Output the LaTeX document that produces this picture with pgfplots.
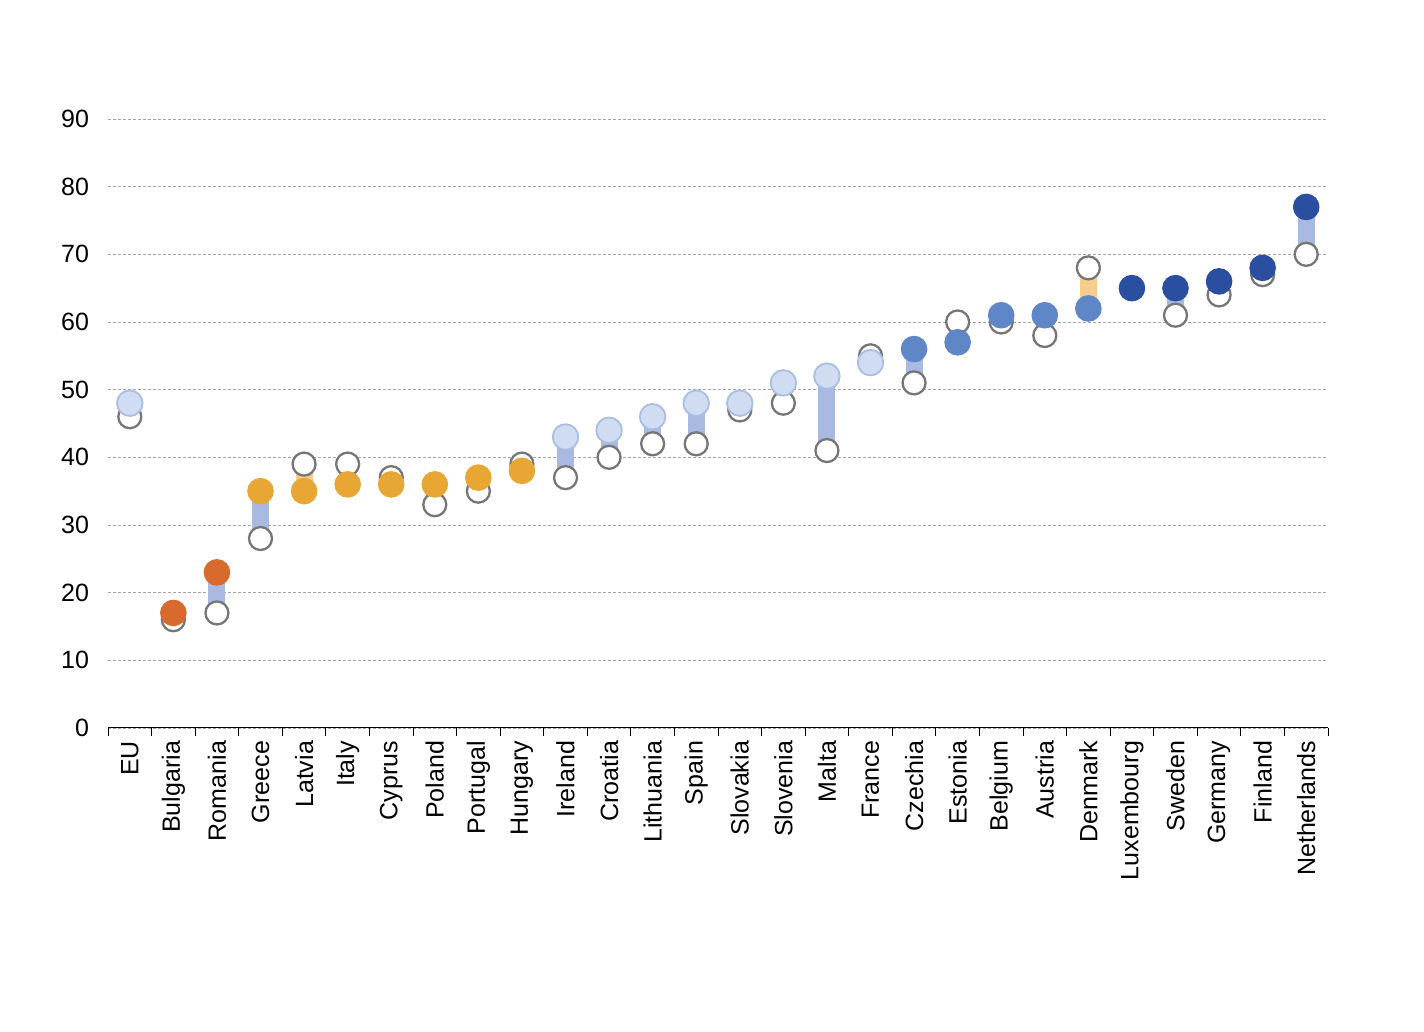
\documentclass[border=0pt]{standalone}
\usepackage{fontspec}
\setmainfont{Liberation Sans}
\usepackage{pgfplots}
\pgfplotsset{compat=1.18}
\usepackage{pgfplotstable}

\definecolor{openedge}{HTML}{767676}
\definecolor{lbfill}{HTML}{CFDCF1}
\definecolor{lbedge}{HTML}{AABDE3}
\definecolor{dofill}{HTML}{D86A2D}
\definecolor{gofill}{HTML}{E8A734}
\definecolor{mbfill}{HTML}{5F86C7}
\definecolor{dbfill}{HTML}{2B4FA0}
\definecolor{barblue}{HTML}{AAB9E1}
\definecolor{barorange}{HTML}{F6CD8E}
\definecolor{gridgray}{HTML}{A6A6A6}

\pgfplotstableread{
x open filled grp
0 46 48 lb
1 16 17 do
2 17 23 do
3 28 35 go
4 39 35 go
5 39 36 go
6 37 36 go
7 33 36 go
8 35 37 go
9 39 38 go
10 37 43 lb
11 40 44 lb
12 42 46 lb
13 42 48 lb
14 47 48 lb
15 48 51 lb
16 41 52 lb
17 55 54 lb
18 51 56 mb
19 60 57 mb
20 60 61 mb
21 58 61 mb
22 68 62 mb
23 65 65 db
24 61 65 db
25 64 66 db
26 67 68 db
27 70 77 db
}\data

\begin{document}
\begin{tikzpicture}
\useasboundingbox (0,0) rectangle (712pt,516pt);
\begin{axis}[
  at={(54pt,152pt)}, anchor=south west,
  scale only axis, width=610pt, height=304.5pt,
  xmin=-0.5, xmax=27.5, ymin=0, ymax=90,
  ytick={0,10,...,90},
  xtick={0,...,27},
  xticklabels={EU,Bulgaria,Romania,Greece,Latvia,Italy,Cyprus,Poland,Portugal,Hungary,Ireland,Croatia,Lithuania,Spain,Slovakia,Slovenia,Malta,France,Czechia,Estonia,Belgium,Austria,Denmark,Luxembourg,Sweden,Germany,Finland,Netherlands},
  minor xtick={-0.5,0.5,...,27.5},
  axis lines*=left,
  y axis line style={draw=none},
  x axis line style={black, line width=0.5pt},
  major tick length=0pt,
  minor tick length=4pt,
  tick align=outside,
  ytick style={draw=none},
  minor x tick style={black, line width=0.5pt},
  ymajorgrids,
  major grid style={draw=gridgray, dash pattern=on 1.5pt off 1pt, line width=0.4pt},
  /pgf/number format/assume math mode=true,
  tick label style={font=\fontsize{12.5}{15}\selectfont},
  yticklabel style={anchor=east, xshift=-6pt},
  xticklabel style={rotate=90, anchor=east, xshift=-3pt},
  clip=false,
]
% connecting bars (increase: blue, decrease: orange)
\addplot[barblue, line width=8.5pt, forget plot] coordinates {(0,46) (0,48)};
\addplot[barblue, line width=8.5pt, forget plot] coordinates {(1,16) (1,17)};
\addplot[barblue, line width=8.5pt, forget plot] coordinates {(2,17) (2,23)};
\addplot[barblue, line width=8.5pt, forget plot] coordinates {(3,28) (3,35)};
\addplot[barorange, line width=8.5pt, forget plot] coordinates {(4,39) (4,35)};
\addplot[barorange, line width=8.5pt, forget plot] coordinates {(5,39) (5,36)};
\addplot[barorange, line width=8.5pt, forget plot] coordinates {(6,37) (6,36)};
\addplot[barblue, line width=8.5pt, forget plot] coordinates {(7,33) (7,36)};
\addplot[barblue, line width=8.5pt, forget plot] coordinates {(8,35) (8,37)};
\addplot[barorange, line width=8.5pt, forget plot] coordinates {(9,39) (9,38)};
\addplot[barblue, line width=8.5pt, forget plot] coordinates {(10,37) (10,43)};
\addplot[barblue, line width=8.5pt, forget plot] coordinates {(11,40) (11,44)};
\addplot[barblue, line width=8.5pt, forget plot] coordinates {(12,42) (12,46)};
\addplot[barblue, line width=8.5pt, forget plot] coordinates {(13,42) (13,48)};
\addplot[barblue, line width=8.5pt, forget plot] coordinates {(14,47) (14,48)};
\addplot[barblue, line width=8.5pt, forget plot] coordinates {(15,48) (15,51)};
\addplot[barblue, line width=8.5pt, forget plot] coordinates {(16,41) (16,52)};
\addplot[barorange, line width=8.5pt, forget plot] coordinates {(17,55) (17,54)};
\addplot[barblue, line width=8.5pt, forget plot] coordinates {(18,51) (18,56)};
\addplot[barorange, line width=8.5pt, forget plot] coordinates {(19,60) (19,57)};
\addplot[barblue, line width=8.5pt, forget plot] coordinates {(20,60) (20,61)};
\addplot[barblue, line width=8.5pt, forget plot] coordinates {(21,58) (21,61)};
\addplot[barorange, line width=8.5pt, forget plot] coordinates {(22,68) (22,62)};
\addplot[barblue, line width=8.5pt, forget plot] coordinates {(24,61) (24,65)};
\addplot[barblue, line width=8.5pt, forget plot] coordinates {(25,64) (25,66)};
\addplot[barblue, line width=8.5pt, forget plot] coordinates {(26,67) (26,68)};
\addplot[barblue, line width=8.5pt, forget plot] coordinates {(27,70) (27,77)};
% open circles
\addplot[only marks, mark=*, mark size=5.75pt,
  mark options={fill=white, draw=openedge, line width=1.15pt}]
  table[x=x, y=open] {\data};
% filled circles
\addplot[scatter, only marks, mark=*, mark size=6.4pt,
  scatter src=explicit symbolic,
  scatter/classes={
    lb={mark=*, fill=lbfill, draw=lbedge, line width=0.9pt},
    do={mark=*, fill=dofill, draw=dofill, line width=0.5pt},
    go={mark=*, fill=gofill, draw=gofill, line width=0.5pt},
    mb={mark=*, fill=mbfill, draw=mbfill, line width=0.5pt},
    db={mark=*, fill=dbfill, draw=dbfill, line width=0.5pt}}]
  table[x=x, y=filled, meta=grp] {\data};
\end{axis}
\end{tikzpicture}
\end{document}
